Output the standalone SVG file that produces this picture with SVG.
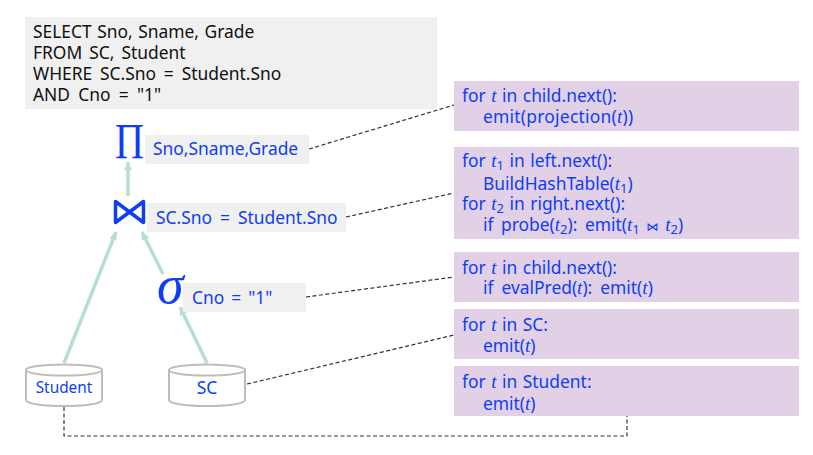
<svg xmlns="http://www.w3.org/2000/svg" width="813" height="455" viewBox="0 0 813 455">
<style>
text{font-family:"Noto Sans","Open Sans","Liberation Sans",sans-serif;font-size:17.400px;word-spacing:1px;fill:#0f3df5}
.sql{fill:#111}
.v{font-family:"Liberation Serif",serif;font-style:italic;font-size:19px}
.s{font-size:13px}
.gr{fill:#f0f0f0}
.pu{fill:#e1d0e6}
.edge{stroke:#b5e0cc;stroke-width:3.5;fill:none;marker-end:url(#ah)}
.dash{stroke:#333;stroke-width:1.2;stroke-dasharray:4 2.5;fill:none}
.cyl{fill:#fff;stroke:#bdbdbd;stroke-width:2}
</style>
<defs><marker id="ah" markerUnits="userSpaceOnUse" markerWidth="10" markerHeight="10" refX="8" refY="4" orient="auto"><path d="M0 0L8 4L0 8Z" fill="#b5e0cc"/></marker></defs>
<rect width="813" height="455" fill="#fff"/>
<g id="sql"><rect class="gr" x="25" y="17" width="412" height="92"/>
<text class="sql" x="33" y="37.500">SELECT Sno, Sname, Grade</text>
<text class="sql" x="33" y="58.500" style="word-spacing:2.500px">FROM SC, Student</text>
<text class="sql" x="33" y="79.500" style="word-spacing:3.300px">WHERE SC.Sno = Student.Sno</text>
<text class="sql" x="33" y="100.500" style="word-spacing:3.700px">AND Cno = "1"</text></g>
<g id="connectors">
<path class="edge" d="M128 196V162"/>
<path class="edge" d="M64 363L116 232"/>
<path class="edge" d="M163 274L142 232"/>
<path class="edge" d="M207 363L180 307"/>
<path class="dash" d="M309 149L454 105"/>
<path class="dash" d="M346 217L454 193"/>
<path class="dash" d="M306 297L454 277"/>
<path class="dash" d="M247 384L454 335"/>
<path class="dash" d="M64 407V436H627V416"/>
</g>
<g id="project"><text x="115" y="158" textLength="29" lengthAdjust="spacingAndGlyphs" style="font-family:'Liberation Serif',serif;font-size:50px">Π</text>
<rect class="gr" x="145" y="135" width="164" height="29"/><text x="153" y="155">Sno,Sname,Grade</text></g>
<g id="join"><path d="M115.500 201.500L143.500 222.500V201.500L115.500 222.500Z" fill="none" stroke="#0f3df5" stroke-width="3.500" stroke-linejoin="round"/>
<rect class="gr" x="147" y="203" width="199" height="29"/><text x="156" y="224" style="word-spacing:3.500px">SC.Sno = Student.Sno</text></g>
<g id="select"><text x="157" y="303" style="font-family:'Liberation Serif',serif;font-style:italic;font-size:54px">σ</text>
<rect class="gr" x="183" y="283" width="123" height="29"/><text x="192" y="304" style="word-spacing:2.500px">Cno = "1"</text></g>
<g id="student"><path class="cyl" d="M26 370V400C26 408 102 408 102 400V370Z"/><ellipse class="cyl" cx="64" cy="370" rx="38" ry="5.500"/><text x="64" y="393" text-anchor="middle" style="font-size:15.400px">Student</text></g>
<g id="sc"><path class="cyl" d="M169 370V400C169 408 245 408 245 400V370Z"/><ellipse class="cyl" cx="207" cy="370" rx="38" ry="5.500"/><text x="207" y="394" text-anchor="middle">SC</text></g>
<g id="code-project"><rect class="pu" x="454" y="81" width="345" height="50"/>
<text x="462" y="101.500">for <tspan class="v">t</tspan> in child.next():</text>
<text x="483" y="123" style="letter-spacing:.25px">emit(projection(<tspan class="v">t</tspan>))</text></g>
<g id="code-join"><rect class="pu" x="454" y="147" width="345" height="92"/>
<text x="462" y="167">for <tspan class="v">t</tspan><tspan class="s" dy="3">1</tspan><tspan dy="-3"> in left.next():</tspan></text>
<text x="483" y="190">BuildHashTable(<tspan class="v">t</tspan><tspan class="s" dy="3">1</tspan><tspan dy="-3">)</tspan></text>
<text x="462" y="210">for <tspan class="v">t</tspan><tspan class="s" dy="3">2</tspan><tspan dy="-3"> in right.next():</tspan></text>
<text x="483" y="231" style="word-spacing:3px">if probe(<tspan class="v">t</tspan><tspan class="s" dy="3">2</tspan><tspan dy="-3">): emit(</tspan><tspan class="v">t</tspan><tspan class="s" dy="3">1</tspan><tspan dy="-3" style="font-family:'DejaVu Sans',sans-serif;font-size:12px"> ⋈ </tspan><tspan class="v">t</tspan><tspan class="s" dy="3">2</tspan><tspan dy="-3">)</tspan></text></g>
<g id="code-select"><rect class="pu" x="454" y="252" width="345" height="50"/>
<text x="462" y="273.500">for <tspan class="v">t</tspan> in child.next():</text>
<text x="483" y="294" style="word-spacing:3.500px">if evalPred(<tspan class="v">t</tspan>): emit(<tspan class="v">t</tspan>)</text></g>
<g id="code-sc"><rect class="pu" x="454" y="309" width="345" height="50"/>
<text x="462" y="330.500">for <tspan class="v">t</tspan> in SC:</text>
<text x="483" y="352">emit(<tspan class="v">t</tspan>)</text></g>
<g id="code-student"><rect class="pu" x="454" y="366" width="345" height="50"/>
<text x="462" y="387.500">for <tspan class="v">t</tspan> in Student:</text>
<text x="483" y="409.500">emit(<tspan class="v">t</tspan>)</text></g>
</svg>
